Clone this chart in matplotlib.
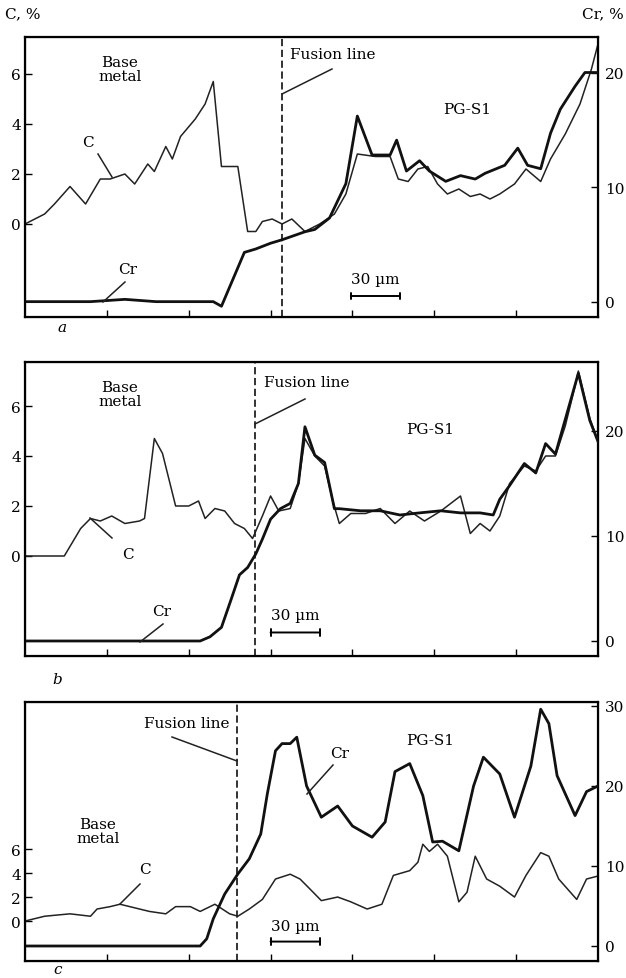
import matplotlib
matplotlib.use("Agg")
import matplotlib.pyplot as plt
from matplotlib.lines import Line2D

plt.rcParams['font.family'] = ['DejaVu Serif']
plt.rcParams['font.size'] = 11

W, H = 626, 979

# distance along the scan, um
a_c_x = [0, 12, 18, 27.5, 37, 46, 52, 61, 67, 75, 79, 86, 90, 95, 104, 110, 115, 120, 130, 136, 141, 145,
         151, 157, 163, 171, 177, 180, 189, 196, 203, 214, 223, 228, 234, 240, 246, 252, 258, 265, 272, 278,
         284, 290, 299, 306, 315, 321, 330, 339, 346, 350]
a_c = [0, 0.4, 0.8, 1.5, 0.8, 1.8, 1.8, 2.0, 1.6, 2.4, 2.1, 3.1, 2.6, 3.5, 4.2, 4.8, 5.7, 2.3, 2.3, -0.3, -0.3, 0.1,
       0.2, 0.0, 0.2, -0.3, -0.1, 0.0, 0.4, 1.2, 2.8, 2.7, 2.7, 1.8, 1.7, 2.2, 2.3, 1.6, 1.2, 1.4, 1.1, 1.2,
       1.0, 1.2, 1.6, 2.2, 1.7, 2.6, 3.6, 4.8, 6.2, 7.2]
a_cr_x = [0, 40, 61, 80, 115, 120, 134, 141, 150, 157, 165, 171, 177, 186, 196, 203, 212, 223, 227, 233, 241,
          247, 257, 266, 275, 281, 293, 301, 307, 315, 321, 327, 336, 342, 350]
a_cr = [0, 0, 0.2, 0, 0, -0.4, 4.3, 4.6, 5.1, 5.4, 5.8, 6.1, 6.3, 7.3, 10.3, 16.2, 12.8, 12.8, 14.1, 11.4, 12.3,
        11.4, 10.5, 11.0, 10.7, 11.2, 11.9, 13.4, 11.9, 11.6, 14.7, 16.8, 18.8, 20, 20]

b_c_x = [0, 24, 34, 40, 46, 53, 61, 70, 73, 79, 84, 92, 100, 106, 110, 116, 122, 128, 134, 139, 145, 150, 155,
         162, 167, 171, 177, 183, 188, 192, 199, 208, 217, 226, 235, 244, 254, 266, 272, 278, 284, 290, 296,
         305, 312, 318, 324, 330, 336, 338, 345, 350]
b_c = [0, 0, 1.1, 1.5, 1.4, 1.6, 1.3, 1.4, 1.5, 4.7, 4.1, 2.0, 2.0, 2.2, 1.5, 1.9, 1.8, 1.3, 1.1, 0.7, 1.6, 2.4, 1.8,
       1.9, 2.9, 4.7, 4.0, 3.6, 2.2, 1.3, 1.7, 1.7, 1.9, 1.3, 1.8, 1.4, 1.8, 2.4, 0.9, 1.3, 1.0, 1.6, 2.9,
       3.6, 3.4, 4.0, 4.0, 5.2, 6.8, 7.4, 5.5, 4.6]
b_cr_x = [0, 107, 113, 120, 126, 131, 136, 141, 145, 150, 156, 162, 167, 171, 177, 183, 189, 192, 205, 217, 229,
          241, 254, 266, 278, 286, 290, 296, 305, 312, 318, 324, 330, 338, 345, 350]
b_cr = [0, 0, 0.4, 1.3, 4.0, 6.3, 7.0, 8.3, 9.7, 11.6, 12.6, 13.1, 15.0, 20.4, 17.7, 17.0, 12.6, 12.6, 12.4, 12.4,
        12.0, 12.2, 12.4, 12.2, 12.2, 12.0, 13.5, 14.8, 16.9, 16.0, 18.8, 17.8, 21.1, 25.5, 21.0, 19.0]

c_c_x = [0, 12, 27.5, 40, 44, 52, 58, 70, 76, 86, 92, 101, 107, 116, 125, 130, 137, 145, 153, 162, 168, 176, 181,
         191, 199, 209, 218, 225, 235, 240, 243, 247, 252, 258, 265, 270, 275, 282, 290, 299, 306, 315, 320,
         326, 337, 343, 350]
c_c = [0, 0.4, 0.6, 0.4, 1.0, 1.2, 1.4, 1.0, 0.8, 0.6, 1.2, 1.2, 0.8, 1.4, 0.6, 0.4, 1.0, 1.8, 3.5, 3.9, 3.5, 2.4,
       1.7, 2.0, 1.6, 1.0, 1.4, 3.8, 4.2, 4.9, 6.4, 5.8, 6.4, 5.4, 1.6, 2.4, 5.4, 3.5, 2.9, 2.0, 3.8, 5.7, 5.4,
       3.5, 1.8, 3.5, 3.75]
c_cr_x = [0, 107, 111, 115, 122, 130, 137, 144, 148, 153, 157, 162, 166, 172, 181, 191, 200, 212, 220, 226, 235,
          243, 249, 255, 265, 274, 280, 290, 299, 309, 315, 320, 325, 336, 343, 350]
c_cr = [0, 0, 0.9, 3.4, 6.5, 9.0, 10.9, 14.0, 19.0, 24.4, 25.3, 25.3, 26.1, 20.0, 16.1, 17.5, 15.0, 13.6, 15.5,
        21.8, 22.8, 18.8, 13.0, 13.1, 11.9, 20.0, 23.6, 21.5, 16.1, 22.5, 29.6, 27.8, 21.3, 16.3, 19.3, 20.0]

c_ticks = [0, 2, 4, 6]
x_ticks = [50, 100, 150, 200, 250, 300]


def fx(x):
    return x / W


def fy(y):
    return 1 - y / H


fig = plt.figure(figsize=(W / 100, H / 100), dpi=100)


def panel(top, bottom, cx, cy, rx, ry, clim, rlim, rticks, fusion, bar_x, bar_y):
    ax = fig.add_axes([fx(25), fy(bottom), fx(598) - fx(25), fy(top) - fy(bottom)])
    ax.plot(cx, cy, color='#222222', lw=1.1)
    ax.set_xlim(0, 350)
    ax.set_ylim(*clim)
    ax.set_yticks(c_ticks)
    ax.set_xticks(x_ticks)
    ax.set_xticklabels([])
    ax.tick_params(direction='in', length=5, width=1, pad=3)
    for s in ax.spines.values():
        s.set_linewidth(1.6)
    ax2 = ax.twinx()
    ax2.plot(rx, ry, color='#111111', lw=2.0)
    ax2.set_ylim(*rlim)
    ax2.set_yticks(rticks)
    ax2.tick_params(direction='in', length=5, width=1, pad=5)
    ax.axvline(fusion, color='#222222', lw=1.3, ls=(0, (4, 2)))
    ax.annotate('', xy=(bar_x, bar_y), xytext=(bar_x + 30, bar_y),
                xycoords=('data', 'axes fraction'),
                arrowprops=dict(arrowstyle='|-|', lw=1.4, mutation_scale=2.5, shrinkA=0, shrinkB=0))
    ax.text(bar_x + 15, bar_y + 0.035, '30 µm', transform=ax.get_xaxis_transform(),
            ha='center', va='bottom', fontsize=11)
    return ax


def label(x, y, s, **kw):
    fig.text(fx(x), fy(y), s, ha=kw.pop('ha', 'center'), va=kw.pop('va', 'center'), **kw)


def leader(x0, y0, x1, y1):
    fig.add_artist(Line2D([fx(x0), fx(x1)], [fy(y0), fy(y1)], color='#222222', lw=1.1))


# panel a
panel(38, 318, a_c_x, a_c, a_cr_x, a_cr, (-3.72, 7.48), (-1.34, 23.1), [0, 10, 20], 157, 199, 0.075)
label(5, 14, 'C, %', ha='left')
label(624, 14, 'Cr, %', ha='right')
label(120, 70, 'Base\nmetal', linespacing=1.0)
label(290, 55, 'Fusion line', ha='left')
leader(282, 95, 332, 70)
label(467, 110, 'PG-S1')
label(88, 143, 'C')
leader(98, 155, 112, 178)
label(128, 270, 'Cr')
leader(125, 283, 103, 303)
label(62, 328, 'a', style='italic')

# panel b
panel(363, 657, b_c_x, b_c, b_cr_x, b_cr, (-4.0, 7.76), (-1.43, 26.57), [0, 10, 20], 140.5, 150, 0.08)
label(120, 395, 'Base\nmetal', linespacing=1.0)
label(264, 383, 'Fusion line', ha='left')
leader(255, 425, 305, 400)
label(430, 430, 'PG-S1')
label(128, 555, 'C')
leader(90, 519, 112, 539)
label(162, 612, 'Cr')
leader(163, 625, 140, 643)
label(57, 680, 'b', style='italic')

# panel c
panel(703, 962, c_c_x, c_c, c_cr_x, c_cr, (-3.33, 18.25), (-1.875, 30.5), [0, 10, 20, 30], 129.5, 150, 0.075)
label(230, 724, 'Fusion line', ha='right')
leader(172, 738, 237, 762)
label(98, 832, 'Base\nmetal', linespacing=1.0)
label(430, 741, 'PG-S1')
label(340, 754, 'Cr')
leader(333, 766, 307, 795)
label(145, 870, 'C')
leader(140, 885, 120, 905)
label(58, 970, 'c', style='italic')

fig.savefig('out.png', dpi=100)
